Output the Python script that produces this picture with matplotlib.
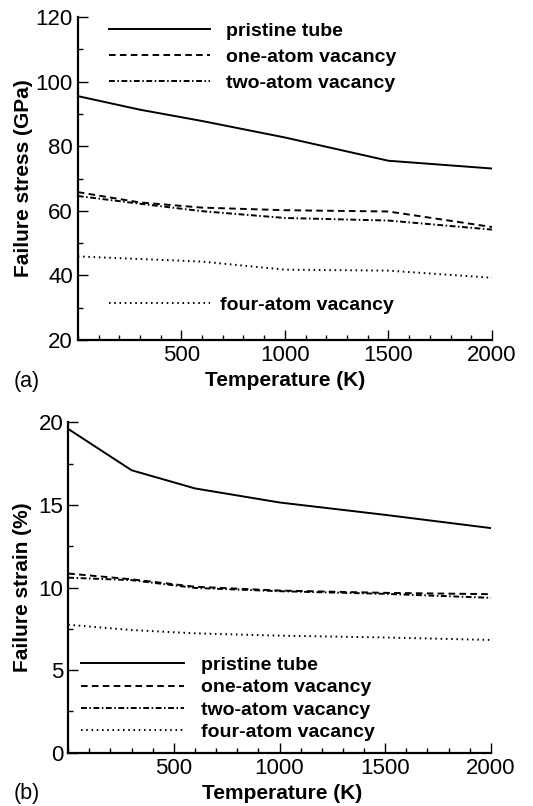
import matplotlib.pyplot as plt
from matplotlib.ticker import MultipleLocator

plt.rcParams['font.family'] = ['Liberation Sans', 'DejaVu Sans']

# temperatures (K)
temp = [0, 300, 600, 1000, 1500, 2000]

# failure stress (GPa)
stress_pristine = [95.5, 91.3, 87.8, 82.7, 75.5, 73.1]
stress_one = [65.8, 62.6, 61.0, 60.2, 59.8, 55.0]
stress_two = [64.6, 62.2, 59.9, 57.8, 57.0, 54.2]
stress_four = [45.9, 45.1, 44.3, 41.8, 41.5, 39.3]

# failure strain (%)
strain_pristine = [19.6, 17.1, 16.0, 15.15, 14.4, 13.6]
strain_one = [10.85, 10.5, 10.05, 9.82, 9.68, 9.6]
strain_two = [10.6, 10.45, 9.98, 9.78, 9.62, 9.38]
strain_four = [7.75, 7.43, 7.23, 7.09, 6.98, 6.83]

labels = ['pristine tube', 'one-atom vacancy', 'two-atom vacancy', 'four-atom vacancy']

LW = 1.4
styles = ['-', (0, (3.4, 2.2)), (0, (3.0, 1.3, 0.8, 1.3)), (0, (0.8, 1.9))]

tick_font = 16
leg_font = 14


def style_axes(ax):
    for s in ['top', 'right']:
        ax.spines[s].set_visible(False)
    for s in ['left', 'bottom']:
        ax.spines[s].set_linewidth(1.6)
    ax.tick_params(which='both', direction='in', top=False, right=False,
                   labelsize=tick_font, width=1.0)
    ax.tick_params(which='major', length=7)
    ax.tick_params(which='minor', length=3.5)
    ax.xaxis.set_minor_locator(MultipleLocator(100))
    ax.set_xlim(0, 2000)
    ax.set_xticks([500, 1000, 1500, 2000])
    ax.set_xlabel('Temperature (K)', fontsize=15, fontweight='bold')


fig = plt.figure(figsize=(5.33, 8.06), dpi=100)

# panel (a)
ax1 = fig.add_axes([0.146, 0.578, 0.777, 0.401])
series_a = [stress_pristine, stress_one, stress_two, stress_four]
lines_a = []
for vals, ls in zip(series_a, styles):
    ln, = ax1.plot(temp, vals, color='black', lw=LW, linestyle=ls)
    lines_a.append(ln)
style_axes(ax1)
ax1.set_ylim(20, 120)
ax1.yaxis.set_major_locator(MultipleLocator(20))
ax1.yaxis.set_minor_locator(MultipleLocator(10))
ax1.set_ylabel('Failure stress (GPa)', fontsize=15, fontweight='bold')
ax1.yaxis.set_label_coords(-0.109, 0.5)
ax1.xaxis.set_label_coords(0.5, -0.094)

leg1 = ax1.legend(lines_a[:3], labels[:3], loc='upper left', bbox_to_anchor=(0.075, 0.983),
                  frameon=False, handlelength=5.2, handletextpad=0.8, labelspacing=0.42,
                  borderpad=0, borderaxespad=0,
                  prop={'size': leg_font, 'weight': 'bold'})
ax1.add_artist(leg1)
ax1.legend(lines_a[3:], labels[3:], loc='center left', bbox_to_anchor=(0.075, 0.108),
           frameon=False, handlelength=5.2, handletextpad=0.5, borderpad=0, borderaxespad=0,
           prop={'size': leg_font, 'weight': 'bold'})
fig.text(0.025, 0.527, '(a)', fontsize=15.5, va='center', ha='left')

# panel (b)
ax2 = fig.add_axes([0.128, 0.066, 0.793, 0.41])
series_b = [strain_pristine, strain_one, strain_two, strain_four]
lines_b = []
for vals, ls in zip(series_b, styles):
    ln, = ax2.plot(temp, vals, color='black', lw=LW, linestyle=ls)
    lines_b.append(ln)
style_axes(ax2)
ax2.set_ylim(0, 20)
ax2.yaxis.set_major_locator(MultipleLocator(5))
ax2.yaxis.set_minor_locator(MultipleLocator(2.5))
ax2.set_ylabel('Failure strain (%)', fontsize=15, fontweight='bold')
ax2.yaxis.set_label_coords(-0.086, 0.5)
ax2.xaxis.set_label_coords(0.505, -0.093)
ax2.legend(lines_b, labels, loc='lower left', bbox_to_anchor=(0.03, 0.036),
           frameon=False, handlelength=5.3, handletextpad=0.9, labelspacing=0.24,
           borderpad=0, borderaxespad=0,
           prop={'size': leg_font, 'weight': 'bold'})
fig.text(0.025, 0.016, '(b)', fontsize=15.5, va='center', ha='left')

fig.savefig('out.png', dpi=100)
